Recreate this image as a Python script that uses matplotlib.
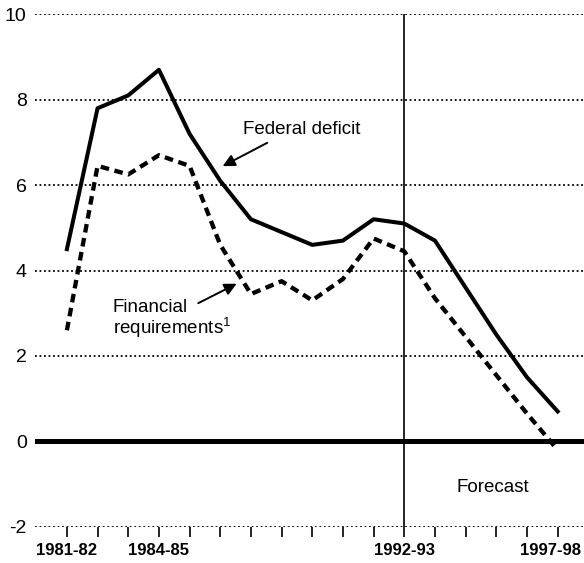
import matplotlib
matplotlib.use("Agg")
import matplotlib.pyplot as plt
from matplotlib.transforms import ScaledTranslation

plt.rcParams["font.family"] = ["Liberation Sans", "DejaVu Sans"]
plt.rcParams["mathtext.default"] = "regular"

# Fiscal years, 1981-82 to 1997-98
years = ["1981-82", "1982-83", "1983-84", "1984-85", "1985-86", "1986-87",
         "1987-88", "1988-89", "1989-90", "1990-91", "1991-92", "1992-93",
         "1993-94", "1994-95", "1995-96", "1996-97", "1997-98"]
shown_years = ["1981-82", "1984-85", "1992-93", "1997-98"]

# Percent of GDP
federal_deficit = [4.5, 7.8, 8.1, 8.7, 7.2, 6.1, 5.2, 4.9, 4.6, 4.7,
                   5.2, 5.1, 4.7, 3.6, 2.5, 1.5, 0.7]
financial_requirements = [2.6, 6.45, 6.25, 6.7, 6.45, 4.6, 3.45, 3.75, 3.3, 3.8,
                          4.75, 4.45, 3.35, 2.45, 1.55, 0.65, -0.2]

forecast_start = "1992-93"
grid_levels = [-2, 2, 4, 6, 8, 10]

fig = plt.figure(figsize=(5.84, 5.63), dpi=100)
ax = fig.add_axes([35 / 584, 1 - 526.7 / 563, 549 / 584, (526.7 - 14.3) / 563])

x = list(range(len(years)))

# dotted grid lines (the bottom one doubles as the x axis)
for g in grid_levels:
    ax.axhline(g, color="black", lw=1.3, ls=(0, (1, 1.5)), zorder=1)
ax.axhline(0, color="black", lw=3.6, zorder=2)
ax.axvline(years.index(forecast_start), color="black", lw=1.2, zorder=2)

ax.plot(x, federal_deficit, color="black", lw=2.9, zorder=3)
ax.plot(x, financial_requirements, color="black", lw=3.1, ls=(0, (2.0, 1.3)), zorder=3)

ax.set_xlim(-1.04, 16.86)
ax.set_ylim(-2, 10)

ax.set_yticks([-2, 0, 2, 4, 6, 8, 10])
ax.set_yticklabels(["-2", "0", "2", "4", "6", "8", "10"], fontsize=14)
ax.tick_params(axis="y", length=0, pad=6)

ax.set_xticks(x)
ax.set_xticklabels([y if y in shown_years else "" for y in years],
                   fontsize=12, fontweight="bold")
ax.tick_params(axis="x", direction="out", length=7, width=1.2, pad=5)
# last label sits a little left of its tick so it stays inside the picture
last = ax.get_xticklabels()[-1]
last.set_transform(last.get_transform() + ScaledTranslation(-0.07, 0, fig.dpi_scale_trans))

for s in ax.spines.values():
    s.set_visible(False)


def to_data(px, py):
    return ((px - 67) / 30.66, (440.5 - py) / 42.6)


arrow = dict(arrowstyle="-|>", color="black", lw=1.4, mutation_scale=18,
             shrinkA=0, shrinkB=0)

ax.text(*to_data(242.7, 129.3), "Federal deficit", fontsize=13.5, va="center", ha="left")
ax.annotate("", xy=to_data(222.7, 166), xytext=to_data(267.3, 142.7), arrowprops=arrow)

ax.text(*to_data(112.7, 318.8), "Financial\nrequirements$^{1}$", fontsize=13.5,
        va="center", ha="left", linespacing=1.0)
ax.annotate("", xy=to_data(236.7, 283.3), xytext=to_data(198.3, 302.7), arrowprops=arrow)

ax.text(*to_data(456, 486.7), "Forecast", fontsize=13.5, va="center", ha="left")

fig.savefig("out.png", dpi=100)
